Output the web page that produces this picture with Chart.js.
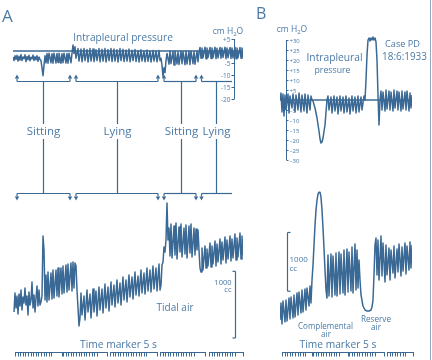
<!DOCTYPE html>
<html><head><meta charset="utf-8">
<script src="https://cdn.jsdelivr.net/npm/chart.js@4.4.1/dist/chart.umd.min.js"></script>
<style>
html,body{margin:0;padding:0;background:#fff;}
#wrap{position:relative;width:432px;height:360px;overflow:hidden;background:#fff;}
#wrap canvas{position:absolute;left:0;top:0;}
</style></head><body>
<div id="wrap">
<canvas id="cAP" width="432" height="360"></canvas>
<canvas id="cAV" width="432" height="360"></canvas>
<canvas id="cBP" width="432" height="360"></canvas>
<canvas id="cBV" width="432" height="360"></canvas>
</div>
<script>
// ---------- DATA (time in s, pressure in cm H2O, volume in cc) ----------
const pressureA = [[0.0,-2.5],[0.1,-4],[0.2,-2],[0.3,-3.5],[0.4,-1.8],[0.5,-4.2],[0.6,-2.2],[0.7,-3.8],[0.8,-1.5],[0.9,-4],[1.0,-2.5],[1.1,-3.2],[1.2,-1.6],[1.3,-4.4],[1.4,-2.3],[1.5,-3.6],[1.6,-1.8],[1.7,-4.1],[1.8,-2.6],[1.9,-3.3],[2.0,-1.7],[2.1,-4],[2.2,-2.4],[2.3,-3.7],[2.4,-2],[2.5,-4.3],[2.6,-2.5],[2.7,-3.5],
[2.8,-4],[2.9,-7],[3.0,-10.3],[3.1,-6],[3.2,-2],
[3.3,-5],[3.4,-1],[3.5,-5.1],[3.6,-0.9],[3.8,-4.9],[3.9,-1.1],[4.0,-5.1],[4.1,-0.9],[4.3,-5],[4.4,-1],[4.5,-4.8],[4.6,-0.9],[4.8,-5.1],[4.9,-1.1],[5.0,-4.9],[5.1,-0.9],[5.3,-5],[5.4,-1],[5.5,-5.1],[5.6,-0.9],[5.8,-4.9],[5.9,-1],
[6.0,2.5],[6.1,-1],[6.2,1.8],[6.3,-3],
[6.5,1],[6.6,-4.2],[6.8,0.8],[6.9,-4.5],[7.1,1],[7.2,-4],[7.4,0.6],[7.5,-4.6],[7.7,1],[7.8,-4.2],[8.0,0.8],[8.1,-4.4],[8.3,0.5],[8.4,-4],[8.6,1],[8.7,-4.5],[8.9,0.7],[9.0,-4.2],[9.2,1],[9.3,-4.6],[9.5,0.6],[9.6,-4],[9.8,1],[9.9,-4.4],[10.1,0.8],[10.2,-4.2],[10.4,0.5],[10.5,-4.6],[10.7,1],[10.8,-4],[11.0,0.7],[11.1,-4.4],[11.3,0.4],[11.4,-4.2],[11.6,0.8],[11.7,-4.5],[11.9,0.3],[12.0,-4],[12.2,0.6],[12.3,-4.4],[12.5,0.2],[12.6,-4.6],[12.8,0.5],[12.9,-4.2],[13.1,0],[13.2,-4.5],[13.4,0.4],[13.5,-4.3],[13.7,0],[13.8,-4.6],[14.0,0.2],[14.1,-4.2],[14.3,0],[14.4,-4.5],[14.6,0.2],[14.7,-4],
[14.8,-3],[14.9,-6],[15.0,-10.5],[15.1,-7],[15.2,-9],[15.3,-4],[15.4,-1],
[15.6,-5.5],[15.7,0],[15.8,-5.2],[16.0,-0.2],[16.1,-5.8],[16.2,0],[16.4,-5.4],[16.5,-0.3],[16.6,-5.6],[16.8,0],[16.9,-5.3],[17.0,-0.2],[17.2,-5.7],[17.3,0],[17.4,-5.4],[17.6,-0.1],[17.7,-5.6],[17.8,0],[18.0,-5.3],[18.1,-0.2],[18.2,-5.5],[18.4,0],[18.5,-4.5],
[18.6,-0.5],[18.7,1.5],[18.8,-3],[18.9,1.2],[19.0,-2.8],[19.2,1.6],[19.3,-3.2],[19.4,1.2],[19.5,-2.7],[19.7,1.5],[19.8,-3.1],[19.9,1.3],[20.0,-2.8],[20.2,1.6],[20.3,-3.2],[20.4,1.1],[20.5,-2.9],[20.7,1.5],[20.8,-3],[20.9,1.3],[21.0,-2.7],[21.2,1.6],[21.3,-3.2],[21.4,1.2],[21.5,-2.8],[21.7,1.5],[21.8,-3.1],[21.9,1.3],[22.0,-2.9],[22.2,1.6],[22.3,-3.2],[22.4,1.2],[22.5,-2.8],[22.7,1.5],[22.8,-3],[22.9,1.3],[23.0,-2.6]];

const tidalA = [[0.1,420],[0.2,705],[0.3,480],[0.4,660],[0.5,390],[0.6,690],[0.7,510],[0.8,750],[0.9,450],[1.0,645],[1.1,555],[1.2,780],[1.3,525],[1.4,660],[1.5,375],[1.6,720],[1.7,525],[1.8,600],[1.9,870],[2.0,480],[2.1,675],[2.2,420],[2.3,630],[2.4,810],[2.5,510],[2.6,750],[2.7,525],[2.8,570],[2.9,660],
[3.0,1560],[3.1,1350],[3.2,600],
[3.3,975],[3.4,570],[3.5,1020],[3.6,600],[3.8,1005],[3.9,615],[4.0,1050],[4.1,630],[4.3,1050],[4.4,660],[4.5,1080],[4.6,645],[4.8,1080],[4.9,690],[5.0,1110],[5.1,705],[5.3,1125],[5.4,720],[5.5,1140],[5.6,750],[5.8,1155],[5.9,735],[6.0,1170],[6.1,780],[6.2,1155],
[6.3,1110],[6.4,750],[6.6,210],[6.7,330],
[6.8,705],[6.9,375],[7.1,660],[7.2,300],[7.4,750],[7.5,420],[7.7,690],[7.8,330],[8.0,765],[8.1,420],[8.3,735],[8.4,360],[8.6,795],[8.7,450],[8.9,765],[9.0,405],[9.2,840],[9.3,480],[9.5,795],[9.6,435],[9.8,870],[9.9,525],[10.1,825],[10.2,495],[10.4,900],[10.5,555],[10.7,855],[10.8,525],[11.0,945],[11.1,600],[11.3,900],[11.4,570],[11.6,975],[11.7,645],[11.9,945],[12.0,615],[12.2,1020],[12.3,675],[12.5,960],[12.6,660],[12.8,1050],[12.9,705],[13.1,1005],[13.2,690],[13.4,1080],[13.5,735],[13.7,1050],[13.8,720],[14.0,1110],[14.1,765],[14.3,1080],[14.4,735],[14.6,1140],[14.7,750],
[14.8,825],[14.9,1125],[15.0,1170],[15.1,1395],[15.2,1320],[15.3,1500],[15.4,2055],[15.5,1500],[15.6,1680],
[15.7,1260],[15.8,1740],[15.9,1230],[16.1,1710],[16.2,1275],[16.3,1755],[16.4,1215],[16.6,1695],[16.7,1320],[16.8,1740],[16.9,1245],[17.1,1680],[17.2,1290],[17.3,1725],[17.4,1230],[17.6,1710],[17.7,1305],[17.8,1740],[17.9,1245],[18.1,1680],[18.2,1275],[18.3,1665],[18.4,1350],[18.5,1650],
[18.6,1350],[18.7,1080],[18.8,1020],
[18.9,1380],[19.0,1050],[19.2,1410],[19.3,1080],[19.4,1365],[19.5,1110],[19.7,1455],[19.8,1095],[19.9,1410],[20.0,1140],[20.2,1485],[20.3,1110],[20.4,1440],[20.5,1170],[20.7,1515],[20.8,1140],[20.9,1470],[21.0,1200],[21.2,1545],[21.3,1155],[21.4,1500],[21.5,1215],[21.7,1560],[21.8,1185],[21.9,1515],[22.0,1230],[22.2,1590],[22.3,1200],[22.4,1530],[22.5,1245],[22.7,1605],[22.8,1215],[22.9,1560],[23.0,1275]];

const pressureB = [[0.0,0],[0.1,3.5],[0.2,-6],[0.3,3],[0.4,-8],[0.5,2.5],[0.6,-5],[0.8,3],[0.9,-6.5],[1.0,2],[1.2,-4],[1.3,3],[1.5,-6],[1.6,2.5],[1.8,-5],[1.9,3.5],[2.1,-6],[2.2,2.5],[2.4,-5.5],[2.5,3],[2.7,-6.5],[2.8,2.5],[3.0,-5],[3.1,2],[3.2,0],
[3.3,-0.5],[3.5,-4],[3.7,-9],[3.9,-15.5],[4.0,-19.5],[4.1,-21.5],[4.2,-21],[4.3,-19],[4.5,-12.5],[4.6,-6],[4.7,0],
[4.8,2],[4.9,-5],[5.1,1.5],[5.2,-6.5],[5.4,2],[5.5,-5.5],[5.7,1.5],[5.8,-7],[6.0,2],[6.1,-5.5],[6.3,1.5],[6.4,-6.5],[6.6,2],[6.7,-6],[6.9,1],[7.0,-7],[7.2,2],[7.3,-5.5],[7.5,1.5],[7.6,-6.5],[7.8,2],[7.9,-6],[8.1,1.5],[8.2,-5],[8.4,2],[8.5,0],
[8.6,10],[8.7,22.5],[8.8,30],[8.9,31],[9.0,29.5],[9.1,31],[9.2,30],[9.3,31.5],[9.4,30],[9.5,31],[9.6,29],[9.7,20],[9.8,2.5],[9.9,-12.5],[10.0,0],
[10.1,4.5],[10.2,-5],[10.3,4],[10.5,-5.5],[10.6,5],[10.7,-4.5],[10.9,4.5],[11.0,-5],[11.1,4],[11.3,-5.5],[11.4,5],[11.5,-4],[11.7,4.5],[11.8,-5],[11.9,4],[12.1,-5.5],[12.2,4.5],[12.3,-4.5],[12.5,4],[12.6,-5],[12.7,4.5],[12.9,-5.5],[13.0,3.5],[13.1,-4],[13.2,2.5]];

const volumeB = [[0.0,170],[0.1,459],[0.2,102],[0.3,493],[0.5,136],[0.6,510],[0.7,153],[0.9,544],[1.0,187],[1.1,561],[1.3,204],[1.4,595],[1.5,221],[1.7,629],[1.8,255],[1.9,646],[2.1,289],[2.2,680],[2.3,306],[2.5,697],[2.6,340],[2.7,714],[2.9,408],[3.0,748],[3.1,459],
[3.2,850],[3.3,1105],[3.4,1445],[3.5,1785],[3.6,2040],[3.7,2210],[3.8,2312],[3.9,2346],[4.0,2346],[4.1,2261],[4.2,2040],[4.3,1734],[4.4,1394],[4.5,1020],[4.6,680],[4.7,544],
[4.8,1275],[4.9,578],[5.1,1292],[5.2,561],[5.3,1258],[5.5,595],[5.6,1309],[5.7,578],[5.9,1326],[6.0,612],[6.1,1292],[6.3,629],[6.4,1360],[6.5,595],[6.7,1377],[6.8,646],[6.9,1326],[7.1,663],[7.2,1411],[7.3,629],[7.5,1462],[7.6,680],[7.7,1360],[7.8,714],
[7.9,1190],[8.0,850],[8.1,600],[8.3,408],[8.5,340],[8.7,323],[8.9,323],[9.1,340],[9.2,391],[9.3,510],[9.4,935],[9.5,1445],[9.6,1564],
[9.7,935],[9.8,1530],[9.9,850],[10.1,1598],[10.2,918],[10.3,1479],[10.5,816],[10.6,1445],[10.7,935],[10.9,1394],[11.0,850],[11.1,1360],[11.3,969],[11.4,1428],[11.5,884],[11.7,1377],[11.8,986],[11.9,1462],[12.1,918],[12.2,1411],[12.3,1003],[12.5,1479],[12.6,952],[12.7,1428],[12.9,1020],[13.0,1496],[13.1,1054],[13.2,1445]];

const pressureTicksA = [5, 0, -5, -10, -15, -20];
const pressureTickLabelsA = ['+5', '0', '-5', '-10', '-15', '-20'];
const pressureTicksB = [30, 25, 20, 15, 10, 5, 0, -5, -10, -15, -20, -25, -30];
const pressureTickLabelsB = ['+30','+25','+20','+15','+10','+5','+0','\u20135','\u201310','\u201315','\u201320','\u201325','\u201330'];
const postureLabels = ['Sitting', 'Lying', 'Sitting', 'Lying'];
const postureSpans = [[0.4, 5.7], [6.3, 14.5], [15.1, 18.3], [18.85, 21.9]];
const postureMarks = [3.0, 10.35, 16.8, 20.3];
const timeGroupsA = [[0.2, 4.9], [5.0, 9.4], [9.7, 14.4], [14.7, 19.2], [19.6, 23.0]];
const timeGroupsB = [[0.2, 3.2], [3.3, 6.8], [6.9, 10.4], [10.7, 13.3]];
const scaleBarA = [30, 1030];
const scaleBarB = [660, 1660];

// ---------- STYLE ----------
const TRACE = '#3b6995';
const INK = '#4a7aa7';
const FONT = '"Open Sans", "Noto Sans", sans-serif';

function ln(ctx, x1, y1, x2, y2) { ctx.beginPath(); ctx.moveTo(x1, y1); ctx.lineTo(x2, y2); ctx.stroke(); }
function txt(ctx, s, x, y, size, align) {
  ctx.font = size + 'px ' + FONT; ctx.textAlign = align || 'center'; ctx.textBaseline = 'alphabetic';
  ctx.fillStyle = INK; ctx.fillText(s, x, y);
}
function fitTxt(ctx, s, x, y, width, align) {
  ctx.font = '10px ' + FONT;
  const w = ctx.measureText(s).width;
  txt(ctx, s, x, y, (10 * width / w).toFixed(2), align);
}
function arrowHead(ctx, x, tipY, dir) {
  ctx.beginPath(); ctx.moveTo(x, tipY); ctx.lineTo(x - 2.2, tipY - dir * 4); ctx.lineTo(x + 2.2, tipY - dir * 4); ctx.closePath(); ctx.fill();
}
function cmH2O(ctx, cx, y, size) {
  ctx.font = size + 'px ' + FONT;
  const a = 'cm H', b = '2', c = 'O';
  const wa = ctx.measureText(a).width, wc = ctx.measureText(c).width;
  ctx.font = (size * 0.7) + 'px ' + FONT; const wb = ctx.measureText(b).width;
  let x = cx - (wa + wb + wc) / 2;
  txt(ctx, a, x, y, size, 'left'); x += wa;
  txt(ctx, b, x, y + size * 0.25, size * 0.7, 'left'); x += wb;
  txt(ctx, c, x, y, size, 'left');
}
function comb(ctx, xs, groups, y) {
  ctx.strokeStyle = TRACE; ctx.lineWidth = 1;
  groups.forEach(([a, b]) => {
    const xa = xs.getPixelForValue(a), xb = xs.getPixelForValue(b);
    ln(ctx, xa, y + 0.5, xb, y + 0.5);
    const end = xa + (xb - xa) * 0.8;
    for (let px = xa; px <= end; px += 2.6) ln(ctx, Math.round(px) + 0.5, y, Math.round(px) + 0.5, y + 4.5);
    ln(ctx, Math.round(xb) + 0.5, y, Math.round(xb) + 0.5, y + 4.5);
  });
}

const overlayAP = { id: 'overlayAP', afterDraw(chart) {
  const { ctx, scales: { x, y } } = chart; ctx.save();
  txt(ctx, 'A', 2, 22, 17, 'left');
  fitTxt(ctx, 'Intrapleural pressure', 123, 41, 100);
  cmH2O(ctx, 228, 34, 8.5);
  const ax = Math.round(x.getPixelForValue(22.1)) + 0.5;
  ctx.strokeStyle = TRACE; ctx.lineWidth = 1;
  ln(ctx, ax, y.getPixelForValue(5), ax, y.getPixelForValue(-20));
  pressureTicksA.forEach((v, i) => {
    const py = Math.round(y.getPixelForValue(v)) + 0.5;
    ln(ctx, ax - 3, py, ax, py);
    txt(ctx, pressureTickLabelsA[i], ax - 4, py + 2.3, 6.5, 'right');
  });
  // posture brackets
  ctx.lineWidth = 1.2; ctx.fillStyle = TRACE;
  const yU = 81.5, yL = 193.5;
  postureSpans.forEach(([a, b], i) => {
    const xa = x.getPixelForValue(a), xb = x.getPixelForValue(b);
    const open = i === postureSpans.length - 1;
    ln(ctx, xa, yU, xb, yU); ln(ctx, xa, yL, xb, yL);
    ln(ctx, xa, yU, xa, yU - 3); arrowHead(ctx, xa, yU - 7, -1);
    ln(ctx, xa, yL, xa, yL + 3); arrowHead(ctx, xa, yL + 7, 1);
    if (!open) {
      ln(ctx, xb, yU, xb, yU - 3); arrowHead(ctx, xb, yU - 7, -1);
      ln(ctx, xb, yL, xb, yL + 3); arrowHead(ctx, xb, yL + 7, 1);
    }
    const xm = Math.round(x.getPixelForValue(postureMarks[i])) + 0.5;
    ln(ctx, xm, yU, xm, 124); ln(ctx, xm, 139, xm, yL);
    ctx.fillStyle = INK;
    txt(ctx, postureLabels[i], xm, 135, 11.5, 'center');
    ctx.fillStyle = TRACE;
  });
  ctx.restore();
}};

const overlayAV = { id: 'overlayAV', afterDraw(chart) {
  const { ctx, scales: { x, y } } = chart; ctx.save();
  const bx = Math.round(x.getPixelForValue(22.2)) + 0.5;
  const y0 = y.getPixelForValue(scaleBarA[0]), y1 = y.getPixelForValue(scaleBarA[1]);
  ctx.strokeStyle = TRACE; ctx.lineWidth = 1.2;
  ln(ctx, bx, y0, bx, y1); ln(ctx, bx - 3, y0, bx, y0); ln(ctx, bx - 3, y1, bx, y1);
  txt(ctx, '1000', bx - 4, 285, 7.5, 'right');
  txt(ctx, 'cc', bx - 4, 292, 7.5, 'right');
  fitTxt(ctx, 'Tidal air', 175, 311, 37);
  fitTxt(ctx, 'Time marker 5 s', 118.5, 348, 77);
  comb(ctx, x, timeGroupsA, 352);
  ctx.restore();
}};

const overlayBP = { id: 'overlayBP', afterDraw(chart) {
  const { ctx, scales: { x, y } } = chart; ctx.save();
  txt(ctx, 'B', 256, 19, 16, 'left');
  cmH2O(ctx, 292, 32, 8.5);
  const ax = Math.round(x.getPixelForValue(0.6)) + 0.5;
  ctx.strokeStyle = TRACE; ctx.lineWidth = 1;
  ln(ctx, ax, y.getPixelForValue(30), ax, y.getPixelForValue(-30));
  pressureTicksB.forEach((v, i) => {
    const py = Math.round(y.getPixelForValue(v)) + 0.5;
    ln(ctx, ax, py, ax + 2, py);
    txt(ctx, pressureTickLabelsB[i], ax + 3, py + 2.2, 6, 'left');
  });
  fitTxt(ctx, 'Intrapleural', 334.5, 61, 56);
  fitTxt(ctx, 'pressure', 332.5, 73, 36);
  fitTxt(ctx, 'Case PD', 402.5, 47, 35);
  fitTxt(ctx, '18:6:1933', 404.5, 60, 45);
  ctx.strokeStyle = '#8fa9c2'; ctx.lineWidth = 1;
  ln(ctx, 430.5, 0, 430.5, 360);
  ctx.restore();
}};

const overlayBV = { id: 'overlayBV', afterDraw(chart) {
  const { ctx, scales: { x, y } } = chart; ctx.save();
  const bx = Math.round(x.getPixelForValue(0.7)) + 0.5;
  const y0 = y.getPixelForValue(scaleBarB[0]), y1 = y.getPixelForValue(scaleBarB[1]);
  ctx.strokeStyle = TRACE; ctx.lineWidth = 1.2;
  ln(ctx, bx, y0, bx, y1); ln(ctx, bx, y0, bx + 3, y0); ln(ctx, bx, y1, bx + 3, y1);
  txt(ctx, '1000', bx + 2, 262, 8, 'left');
  txt(ctx, 'cc', bx + 2, 271, 8, 'left');
  fitTxt(ctx, 'Complemental', 325.5, 329, 55);
  fitTxt(ctx, 'air', 326, 337, 10);
  fitTxt(ctx, 'Reserve', 376, 322, 30);
  fitTxt(ctx, 'air', 376, 330, 10);
  fitTxt(ctx, 'Time marker 5 s', 338, 348, 77);
  comb(ctx, x, timeGroupsB, 352);
  ctx.restore();
}};

function traceChart(id, series, xr, yr, pad, plugin, baseline) {
  const ds = [{ data: series.map(p => ({ x: p[0], y: p[1] })), showLine: true, borderColor: TRACE, borderWidth: 1.5, pointRadius: 0, tension: 0, borderJoinStyle: 'round' }];
  if (baseline) ds.unshift({ data: [{ x: xr[0], y: 0 }, { x: xr[1], y: 0 }], showLine: true, borderColor: TRACE, borderWidth: 1.3, pointRadius: 0 });
  return new Chart(document.getElementById(id), {
    type: 'scatter',
    data: { datasets: ds },
    options: {
      responsive: false, animation: false, events: [], devicePixelRatio: 1,
      layout: { padding: pad },
      plugins: { legend: { display: false }, tooltip: { enabled: false } },
      scales: {
        x: { type: 'linear', min: xr[0], max: xr[1], display: false },
        y: { type: 'linear', min: yr[0], max: yr[1], display: false }
      }
    },
    plugins: [plugin]
  });
}

traceChart('cAP', pressureA, [0, 23], [-20, 5], { left: 13, right: 189, top: 39, bottom: 261 }, overlayAP, true);
traceChart('cAV', tidalA, [0, 23], [0, 2100], { left: 13, right: 189, top: 200, bottom: 20 }, overlayAV, false);
traceChart('cBP', pressureB, [0, 13.2], [-32, 32], { left: 280, right: 20, top: 36, bottom: 196 }, overlayBP, true);
traceChart('cBV', volumeB, [0, 13.2], [0, 2400], { left: 280, right: 20, top: 189, bottom: 30 }, overlayBV, false);
</script>
</body></html>
